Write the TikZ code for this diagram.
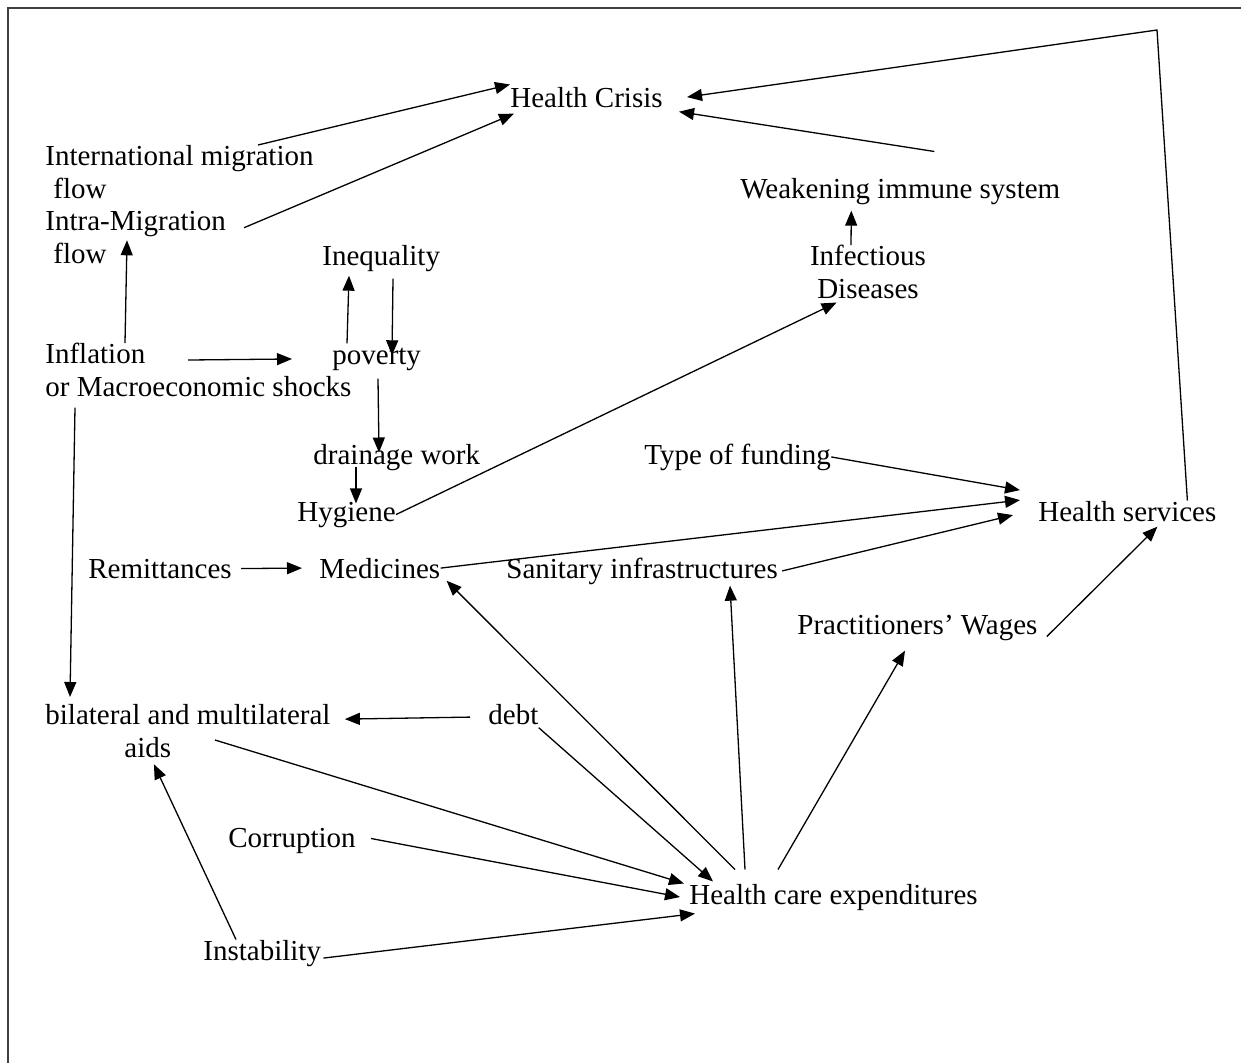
\documentclass[tikz,border=0pt]{standalone}
\usepackage{fontspec}
\setmainfont{Liberation Serif}
\usepackage{tikz}
\usetikzlibrary{arrows.meta,positioning}
\tikzstyle{link} = [line width=0.65pt,-{Triangle[length=7.5pt,width=6pt]}]
\tikzstyle{factor} = [inner sep=0pt, anchor=base west, font=\fontsize{14.5pt}{16.5pt}\selectfont]
\tikzstyle{factortwo} = [factor, anchor=north west, align=left]

\begin{document}
\begin{tikzpicture}[x=0.5pt, y=-0.5pt]
\useasboundingbox (0,0) rectangle (1241,1062);
% frame
\draw[line width=1.2pt, black!75] (1245,8) -- (8,8) -- (8,1066);

% Top part
\node (hcrisis) [factor] at (510,107) {Health Crisis};
\node (intmig) [factortwo] at (45,145) {International migration\\\hspace{4pt}flow};
\node (intra) [factortwo] at (45,211) {Intra-Migration\\\hspace{4pt}flow};
\node (weak) [factor] at (740,198) {Weakening immune system};
\node (infect) [factor, anchor=north, align=center] at (868,245) {Infectious\\Diseases};
\node (ineq) [factor] at (322,265) {Inequality};
\node (infl) [factortwo] at (45,343) {Inflation\\or Macroeconomic shocks};
\node (poverty) [factor] at (332,364) {poverty};
\node (drain) [factor] at (313,464) {drainage work};
\node (hyg) [factor] at (297,521) {Hygiene};

% Middle part
\node (funding) [factor] at (644,464) {Type of funding};
\node (hservices) [factor] at (1038,521) {Health services};
\node (remit) [factor] at (88,578) {Remittances};
\node (medic) [factor] at (319,578) {Medicines};
\node (sanit) [factor] at (506,578) {Sanitary infrastructures};
\node (wages) [factor] at (797,634) {Practitioners’ Wages};

% Bottom part
\node (bilat) [factortwo] at (45,704) {bilateral and multilateral\\\hspace{39.5pt}aids};
\node (debt) [factor] at (488,724) {debt};
\node (corr) [factor] at (228,847) {Corruption};
\node (hce) [factor] at (689,904) {Health care expenditures};
\node (instab) [factor] at (203,960) {Instability};
\coordinate (corner) at (1157,30);

% Links to the health crisis
\draw[link] ([xshift=-28pt]intmig.north east) -- ([yshift=1pt]hcrisis.north west);
\draw[link] ([xshift=9pt,yshift=5pt]intra.east) -- ([xshift=2pt,yshift=-3pt]hcrisis.south west);
\draw[link] ([xshift=17pt,yshift=13pt]weak.north) -- ([xshift=8pt,yshift=-2pt]hcrisis.south east);
\draw[link] ([xshift=30pt]hservices.north) -- (corner) -- ([xshift=12pt]hcrisis.east);
\draw[link] ([xshift=-8.5pt]infect.north) -- ([xshift=-24.5pt,yshift=-3pt]weak.south);

% Inflation and poverty
\draw[link] ([xshift=40pt]infl.north west) -- ([xshift=41pt,yshift=12pt]intra.south west);
\draw[link] ([xshift=71.5pt,yshift=-8.5pt]infl.north west) -- ([xshift=-20pt]poverty.west);
\draw[link] ([xshift=7.5pt,yshift=2pt]poverty.north west) -- ([xshift=13.5pt,yshift=-2pt]ineq.south west);
\draw[link] ([xshift=35.5pt,yshift=-3.5pt]ineq.south west) -- ([xshift=30pt,yshift=-4pt]poverty.north west);
\draw[link] ([xshift=23pt,yshift=-4pt]poverty.south west) -- ([xshift=33pt,yshift=-4.5pt]drain.north west);
\draw[link] ([xshift=21.5pt,yshift=2pt]drain.south west) -- ([xshift=29.5pt,yshift=-1pt]hyg.north west);
\draw[link] (hyg.east) -- ([xshift=13.5pt,yshift=-1.5pt]infect.south west);

% Health services
\draw[link] (funding.east) -- ([xshift=-9pt,yshift=10.5pt]hservices.west);
\draw[link] (medic.east) -- ([xshift=-9pt,yshift=5.5pt]hservices.west);
\draw[link] ([xshift=2pt]sanit.east) -- ([xshift=-12.5pt,yshift=-2pt]hservices.west);
\draw[link] ([xshift=4.5pt,yshift=-4.5pt]wages.east) -- ([xshift=15pt,yshift=-2.5pt]hservices.south);
\draw[link] ([xshift=4.5pt]remit.east) -- ([xshift=-8.5pt]medic.west);

% Aids and expenditures
\draw[link] ([xshift=15pt,yshift=-5pt]infl.south west) -- ([xshift=12.5pt,yshift=3.5pt]bilat.north west);
\draw[link] ([xshift=-9pt,yshift=-1.5pt]debt.west) -- ([xshift=7pt,yshift=6pt]bilat.east);
\draw[link] ([xshift=85pt,yshift=-18pt]bilat.north west) -- ([xshift=-2.5pt]hce.north west);
\draw[link] ([yshift=-1.5pt]debt.south east) -- ([xshift=12pt,yshift=1pt]hce.north west);
\draw[link] ([xshift=7.5pt,yshift=1pt]corr.east) -- ([xshift=-4.5pt]hce.west);
\draw[link] ([xshift=1pt,yshift=-2.5pt]instab.east) -- ([xshift=3pt,yshift=-1.5pt]hce.south west);
\draw[link] ([xshift=16.5pt]instab.north west) -- ([xshift=-17pt,yshift=-3pt]bilat.south);
\draw[link] ([xshift=23pt,yshift=7pt]hce.north west) -- ([xshift=3pt,yshift=-1pt]medic.south east);
\draw[link] ([xshift=28pt,yshift=7pt]hce.north west) -- ([xshift=112pt,yshift=-0.5pt]sanit.south west);
\draw[link] ([xshift=44.5pt,yshift=7pt]hce.north west) -- ([xshift=54pt,yshift=-5pt]wages.south west);
\end{tikzpicture}
\end{document}
